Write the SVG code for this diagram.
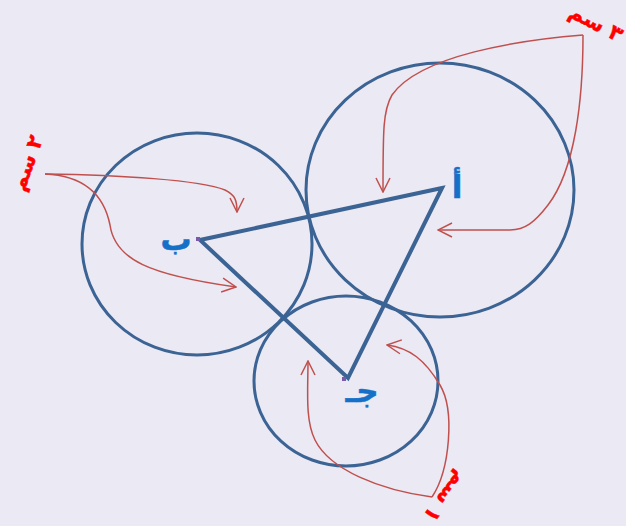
<svg xmlns="http://www.w3.org/2000/svg" width="626" height="526" viewBox="0 0 626 526">
<style>
.circ{fill:none;stroke:#3b6394;stroke-width:3}
.tri{fill:none;stroke:#3b6394;stroke-width:4;stroke-linejoin:miter}
.arr{fill:none;stroke:#c0504d;stroke-width:1.5;marker-end:url(#ah)}
.vl{font-family:"DejaVu Sans",sans-serif;font-weight:bold;font-size:31px;fill:#1570c8;stroke:#1570c8;stroke-width:0.5;text-anchor:middle}
.ml{font-family:"DejaVu Sans",sans-serif;font-weight:bold;font-size:21px;fill:#ff0000;stroke:#ff0000;stroke-width:0.4;text-anchor:middle}
.pt{fill:#7a5aa8}
</style>
<defs>
<marker id="ah" viewBox="0 0 16 16" refX="15" refY="8" markerWidth="16" markerHeight="16" markerUnits="userSpaceOnUse" orient="auto">
<path d="M1,1 L15,8 L1,15" fill="none" stroke="#c0504d" stroke-width="1.5"/>
</marker>
</defs>
<rect x="0" y="0" width="626" height="526" fill="#eae9f4"/>
<g id="circleA"><ellipse class="circ" cx="440" cy="190" rx="134" ry="127"/></g>
<g id="circleB"><ellipse class="circ" cx="197" cy="244" rx="115" ry="111"/></g>
<g id="circleC"><ellipse class="circ" cx="346" cy="381" rx="92" ry="85"/></g>
<g id="triangle"><polygon class="tri" points="442,188 200,240 348,378"/></g>
<g id="vertexA"><text class="vl" x="457" y="198">أ</text></g>
<g id="vertexB"><rect class="pt" x="196" y="237" width="4" height="4"/><text class="vl" x="176" y="250">ب</text></g>
<g id="vertexC"><rect class="pt" x="342" y="377" width="4" height="4"/><text class="vl" x="362" y="402">جـ</text></g>
<g id="connectors">
<path class="arr" d="M583,35 C520,40 420,55 392,95 C383,110 383,130 383,192"/>
<path class="arr" d="M583,35 C583,100 575,170 548,205 C535,222 525,230 510,230 L438,230"/>
<path class="arr" d="M45,174 C120,175 200,180 225,190 C235,195 237,200 237,212"/>
<path class="arr" d="M45,174 C90,176 105,200 110,225 C115,260 150,275 236,287"/>
<path class="arr" d="M432,497 C380,490 330,470 315,440 C305,420 308,390 308,361"/>
<path class="arr" d="M432,497 C450,470 455,410 440,385 C425,360 410,348 387,345"/>
</g>
<g id="label3"><text class="ml" transform="translate(596,23) rotate(28)" y="7">٣ سم</text></g>
<g id="label2"><text class="ml" transform="translate(27,163) rotate(-70)" y="7">٢ سم</text></g>
<g id="label1"><text class="ml" transform="translate(446,497) rotate(128)" y="7">١ سم</text></g>
</svg>
